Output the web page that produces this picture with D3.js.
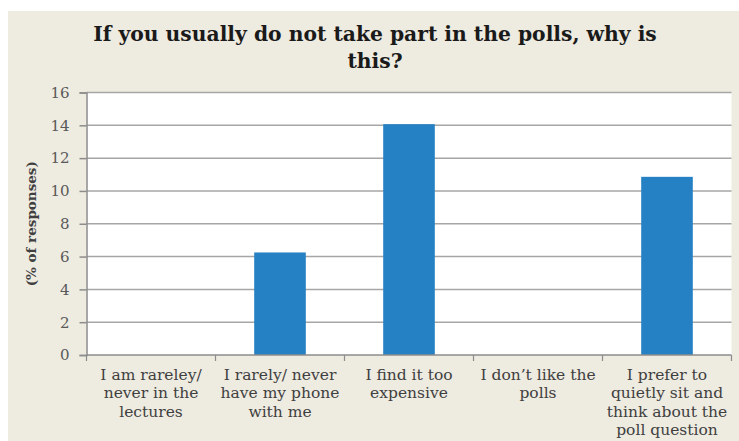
<!DOCTYPE html>
<html>
<head>
<meta charset="utf-8">
<script src="https://cdn.jsdelivr.net/npm/d3@7"></script>
<style>
  html, body { margin: 0; padding: 0; background: #ffffff; }
</style>
</head>
<body>
<div id="canvas"></div>
<script>
const categories = [
    ['I am rareley/', 'never in the', 'lectures'],
    ['I rarely/ never', 'have my phone', 'with me'],
    ['I find it too', 'expensive'],
    ['I don\u2019t like the', 'polls'],
    ['I prefer to', 'quietly sit and', 'think about the', 'poll question']
];
const values = [0, 6.25, 14.07, 0, 10.86];
const yTicks = [0, 2, 4, 6, 8, 10, 12, 14, 16];
const titleLines = ['If you usually do not take part in the polls, why is', 'this?'];

const w = 739,
    h = 441,
    margin = { top: 92.5, right: 7.5, bottom: 86, left: 86.5 },
    bg = '#eeebe0',
    barColor = '#2581c4',
    serif = '"DejaVu Serif", serif';

const svg = d3.select('#canvas').append('svg')
    .attr('width', w)
    .attr('height', h);

svg.append('rect')
    .attr('x', 8)
    .attr('y', 11)
    .attr('width', w - 8)
    .attr('height', h - 11)
    .attr('fill', bg);

const x = d3.scaleBand()
    .domain(d3.range(categories.length))
    .range([margin.left, w - margin.right])
    .paddingInner(0.6)
    .paddingOuter(0.3);

const y = d3.scaleLinear()
    .domain([0, 16])
    .range([h - margin.bottom, margin.top]);

// plot area
svg.append('rect')
    .attr('x', margin.left)
    .attr('y', margin.top)
    .attr('width', w - margin.right - margin.left)
    .attr('height', h - margin.bottom - margin.top)
    .attr('fill', '#ffffff');

// gridlines
svg.append('g')
    .selectAll('line')
    .data(yTicks.slice(1))
    .join('line')
    .attr('x1', margin.left)
    .attr('x2', w - margin.right)
    .attr('y1', d => y(d))
    .attr('y2', d => y(d))
    .attr('stroke', '#a6a6a6')
    .attr('stroke-width', 1.5);

// bars
svg.append('g')
    .selectAll('rect')
    .data(values)
    .join('rect')
    .attr('x', (d, i) => x(i))
    .attr('y', d => y(d))
    .attr('width', x.bandwidth())
    .attr('height', d => y(0) - y(d))
    .attr('fill', barColor);

// y axis
const yAxis = svg.append('g')
    .attr('transform', 'translate(' + margin.left + ',0)')
    .call(d3.axisLeft(y).tickValues(yTicks).tickSize(7).tickPadding(10));
yAxis.select('.domain').attr('stroke', '#8c8c8c').attr('stroke-width', 1.5);
yAxis.selectAll('.tick line').attr('stroke', '#8c8c8c').attr('stroke-width', 1.5);
yAxis.selectAll('.tick text')
    .attr('font-family', serif)
    .attr('font-size', '15px')
    .attr('fill', '#595959');

// x axis baseline and category ticks
const xBase = svg.append('g');
xBase.append('line')
    .attr('x1', margin.left)
    .attr('x2', w - margin.right)
    .attr('y1', y(0))
    .attr('y2', y(0))
    .attr('stroke', '#8c8c8c')
    .attr('stroke-width', 1.5);
xBase.selectAll('line.sep')
    .data(d3.range(categories.length + 1))
    .join('line')
    .attr('class', 'sep')
    .attr('x1', i => margin.left + i * x.step())
    .attr('x2', i => margin.left + i * x.step())
    .attr('y1', y(0))
    .attr('y2', y(0) + 6)
    .attr('stroke', '#8c8c8c')
    .attr('stroke-width', 1.2);

// category labels
const labels = svg.append('g')
    .selectAll('text')
    .data(categories)
    .join('text')
    .attr('x', (d, i) => x(i) + x.bandwidth() / 2)
    .attr('y', y(0) + 25)
    .attr('text-anchor', 'middle')
    .attr('font-family', serif)
    .attr('font-size', '15.5px')
    .attr('fill', '#404040');
labels.selectAll('tspan')
    .data(d => d)
    .join('tspan')
    .attr('x', function () { return this.parentNode.getAttribute('x'); })
    .attr('dy', (d, i) => i === 0 ? 0 : 18.3)
    .text(d => d);

// y axis title
svg.append('text')
    .attr('transform', 'translate(36,' + (margin.top + (y(0) - margin.top) / 2) + ')rotate(-90)')
    .attr('text-anchor', 'middle')
    .attr('font-family', serif)
    .attr('font-size', '13.5px')
    .attr('font-weight', 700)
    .attr('fill', '#404040')
    .text('(% of responses)');

// chart title
svg.append('g')
    .selectAll('text')
    .data(titleLines)
    .join('text')
    .attr('x', 375)
    .attr('y', (d, i) => 41 + i * 27)
    .attr('text-anchor', 'middle')
    .attr('font-family', serif)
    .attr('font-size', '20.3px')
    .attr('font-weight', 700)
    .attr('fill', '#1a1a1a')
    .text(d => d);
</script>
</body>
</html>
